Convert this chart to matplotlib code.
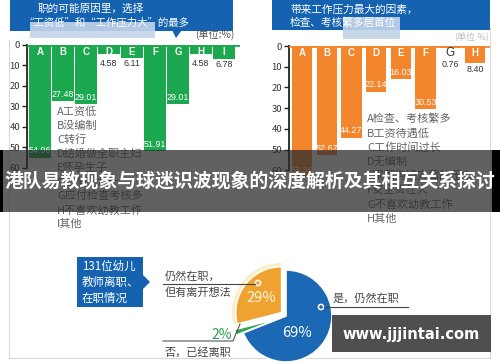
import matplotlib
matplotlib.use("Agg")
import matplotlib.pyplot as plt
from matplotlib.patches import Rectangle, Polygon, Circle

plt.rcParams['font.family'] = ['Noto Sans CJK SC', 'DejaVu Sans']

# ---------------- data ----------------
left_cats = ["A", "B", "C", "D", "E", "F", "G", "H", "I"]
left_vals = [54.96, 27.48, 29.01, 4.58, 6.11, 51.91, 29.01, 4.58, 6.78]
left_legend = ["A工资低", "B没编制", "C转行", "D结婚做全职主妇", "E怀孕生子",
               "F工作压力大", "G应付检查考核多", "H不喜欢幼教工作", "I其他"]
left_title = ["职的可能原因里，选择", "“工资低”和“工作压力大”的最多"]

right_cats = ["A", "B", "C", "D", "E", "F", "G", "H"]
right_vals = [63.36, 52.67, 44.27, 22.14, 16.03, 30.53, 0.76, 8.40]
right_legend = ["A检查、考核繁多", "B工资待遇低", "C工作时间过长", "D无编制",
                "E家园沟通方面的压力", "F安全责任大", "G不喜欢幼教工作", "H其他"]
right_title = ["带来工作压力最大的因素，", "检查、考核繁多居首位"]

yticks = [0, 10, 20, 30, 40, 50, 60]

pie_labels = ["是，仍然在职", "否，已经离职", "仍然在职，\n但有离开想法"]
pie_vals = [69, 2, 29]
pie_box = ["131位幼儿", "教师离职、", "在职情况"]

banner = "港队易教现象与球迷识波现象的深度解析及其相互关系探讨"
watermark = "www.jjjintai.com"

GREEN = "#1ba84e"
ORANGE = "#f3852c"
HEAD_BLUE = "#1563b0"
PIE_BLUE = "#1b68b4"
PIE_ORANGE = "#f0a231"
PIE_GREEN = "#2ea653"
NARROW = ['Liberation Sans', 'DejaVu Sans']

W, H = 500, 362
fig = plt.figure(figsize=(5, 3.62), dpi=100)
fig.patch.set_facecolor("white")


def px_axes(x0, y0, x1, y1):
    return fig.add_axes([x0 / W, 1 - y1 / H, (x1 - x0) / W, (y1 - y0) / H])


# background canvas
cv = px_axes(0, 0, W, H)
cv.set_xlim(0, W)
cv.set_ylim(H, 0)
cv.axis("off")

# frame lines
cv.plot([9, 9], [40, 358], color="#d9d9d9", lw=0.8)
cv.plot([490, 490], [28, 358], color="#d9d9d9", lw=0.8)
cv.plot([9, 490], [358, 358], color="#d9d9d9", lw=0.8)

# headers
cv.add_patch(Rectangle((10, 0), 223, 31, color=HEAD_BLUE, lw=0))
cv.add_patch(Rectangle((30, 22), 125, 16, color="#c3d5ea", alpha=0.9, lw=0))
cv.add_patch(Polygon([[172, 30], [182, 30], [176, 38]], closed=True, color=HEAD_BLUE, lw=0))
cv.text(38, 9, left_title[0], color="white", fontsize=7.7, va="center", ha="left")
cv.text(24, 23, left_title[1], color="white", fontsize=7.5, va="center", ha="left")
cv.text(234, 35, "(单位:%)", color="#555555", fontsize=7.3, va="center", ha="right")

cv.add_patch(Rectangle((272, 0), 218, 30, color=HEAD_BLUE, lw=0))
cv.text(290, 10, right_title[0], color="white", fontsize=7.7, va="center", ha="left")
cv.text(290, 22, right_title[1], color="white", fontsize=7.7, va="center", ha="left")
cv.add_patch(Rectangle((343, 17), 57, 22, color="#c0d3e8", alpha=0.92, lw=0))
cv.text(489, 37, "(单位:%)", color="#bbbbbb", fontsize=6.5, va="center", ha="right")

# legends
for i, t in enumerate(left_legend):
    cv.text(57, 112 + 14 * i, t, color="#666666", fontsize=8, va="center", ha="left")
for i, t in enumerate(right_legend):
    cv.text(367, 119 + 14.2 * i, t, color="#666666", fontsize=8, va="center", ha="left")


def bar_panel(ax, cats, vals, color, width, ylim_max):
    xs = list(range(len(cats)))
    ax.bar(xs, vals, width=width, color=color, lw=0, zorder=2)
    ax.axhline(0, color=color, lw=2, zorder=3)
    ax.set_ylim(ylim_max, 0)
    ax.set_yticks(yticks)
    ax.set_yticklabels([str(t) for t in yticks], fontsize=6.8, color="#333333")
    ax.tick_params(axis="y", length=3.5, width=1, color="#222222", pad=1.5)
    ax.set_xticks([])
    for s in ["top", "right", "bottom"]:
        ax.spines[s].set_visible(False)
    ax.spines["left"].set_linewidth(1.3)
    ax.spines["left"].set_color("#222222")
    ax.spines["left"].set_bounds(0, 60)
    ax.patch.set_alpha(0)
    for x, c, v in zip(xs, cats, vals):
        if v >= 2:
            ax.text(x, 3.2, c, color="white", fontsize=7, ha="center", va="center",
                    fontweight="bold", family=NARROW, zorder=4)
        else:
            ax.text(x, 3.4, c, color="#333333", fontsize=8.5, ha="center", va="center",
                    family=NARROW, zorder=4)
        lab = f"{v:.2f}"
        if v >= 12:
            ax.text(x, v - 1.2, lab, color="white", fontsize=6.4, ha="center", va="bottom",
                    family=NARROW, zorder=4)
        else:
            ax.text(x, max(v, 6.3) + 0.6, lab, color="#333333", fontsize=6.4, ha="center",
                    va="top", family=NARROW, zorder=4)


# left bar chart: y=0 at px 45, 2.05 px / unit, bar pitch 23 px, first center px 40
axL = px_axes(27, 45, 240, 45 + 60 * 2.05)
axL.set_xlim(-13 / 23, (240 - 40) / 23)
bar_panel(axL, left_cats, left_vals, GREEN, 0.93, 60)

# right bar chart: y=0 at px 46, 2.07 px / unit, pitch 24.7, first center px 302
axR = px_axes(289, 46, 490, 46 + 66 * 2.07)
axR.set_xlim(-13 / 24.7, (490 - 302) / 24.7)
bar_panel(axR, right_cats, right_vals, ORANGE, 0.82, 66)

# pie
cx, cy, R = 286, 316, 46
half = 1.2 * R
axP = px_axes(cx - half, cy - half, cx + half, cy + half)
axP.set_xlim(-1.2, 1.2)
axP.set_ylim(-1.2, 1.2)
axP.set_aspect("equal")
axP.axis("off")
explode = [0, 0.16, 0.12]
axP.pie(pie_vals, radius=1.08, colors=["none", "none", "#fbeec4"], explode=explode,
        startangle=90, counterclock=False, wedgeprops=dict(lw=0))
axP.pie(pie_vals, radius=1.0, colors=[PIE_BLUE, PIE_GREEN, PIE_ORANGE], explode=explode,
        startangle=90, counterclock=False, wedgeprops=dict(lw=1.2, edgecolor="white"))
axP.set_xlim(-1.2, 1.2)
axP.set_ylim(-1.2, 1.2)

# pie annotations (canvas above pie)
cv2 = px_axes(0, 0, W, H)
cv2.set_xlim(0, W)
cv2.set_ylim(H, 0)
cv2.axis("off")
cv2.patch.set_alpha(0)

cv2.add_patch(Rectangle((77, 257), 66, 50, color=HEAD_BLUE, lw=0))
cv2.add_patch(Polygon([[143, 275], [150, 282], [143, 289]], closed=True, color=HEAD_BLUE, lw=0))
for i, t in enumerate(pie_box):
    cv2.text(82, 266 + 16 * i, t, color="white", fontsize=8.3, va="center", ha="left")

orange_lines = pie_labels[2].split("\n")
cv2.text(165, 276, orange_lines[0], color="#444444", fontsize=8, va="center", ha="left")
cv2.text(165, 293, orange_lines[1], color="#444444", fontsize=8, va="center", ha="left")
cv2.plot([163, 255], [284, 284], color="#444444", lw=0.8)
cv2.add_patch(Circle((258, 283), 2.6, facecolor=PIE_ORANGE, edgecolor="white", lw=1.1))
cv2.text(261, 298, f"{pie_vals[2]}%", color="#fff6e0", fontsize=10.5, va="center", ha="center")

cv2.text(333, 298, pie_labels[0], color="#444444", fontsize=8, va="center", ha="left")
cv2.plot([324, 408], [307, 307], color="#444444", lw=0.8)
cv2.add_patch(Circle((321, 307), 2.6, facecolor=PIE_BLUE, edgecolor="white", lw=1.1))
cv2.text(297, 333, f"{pie_vals[0]}%", color="white", fontsize=10.5, va="center", ha="center")

cv2.text(232, 335, f"{pie_vals[1]}%", color="#2e9a50", fontsize=10, va="center", ha="right")
cv2.plot([163, 233, 240], [341, 341, 324], color="#555555", lw=0.8)
cv2.text(165, 352, pie_labels[1], color="#444444", fontsize=8, va="center", ha="left")

# overlay: banner + watermark
ov = px_axes(0, 0, W, H)
ov.set_xlim(0, W)
ov.set_ylim(H, 0)
ov.axis("off")
ov.patch.set_alpha(0)
ov.set_zorder(20)
ov.add_patch(Rectangle((0, 150), 500, 62, color="#2a2a2a", alpha=0.74, lw=0))
ov.add_patch(Rectangle((0, 150), 3, 62, color="black", lw=0))
ov.add_patch(Rectangle((492, 150), 8, 62, color="black", lw=0))
ov.text(250, 181, banner, color="white", fontsize=13.6, fontweight="bold",
        va="center", ha="center")
ov.add_patch(Rectangle((332, 315), 159, 37, color="#4f4f4f", lw=0))
ov.text(411.5, 334, watermark, color="white", fontsize=10.5, fontweight="bold",
        family=["DejaVu Sans"], va="center", ha="center")

fig.savefig("out.png", dpi=100, facecolor="white")
